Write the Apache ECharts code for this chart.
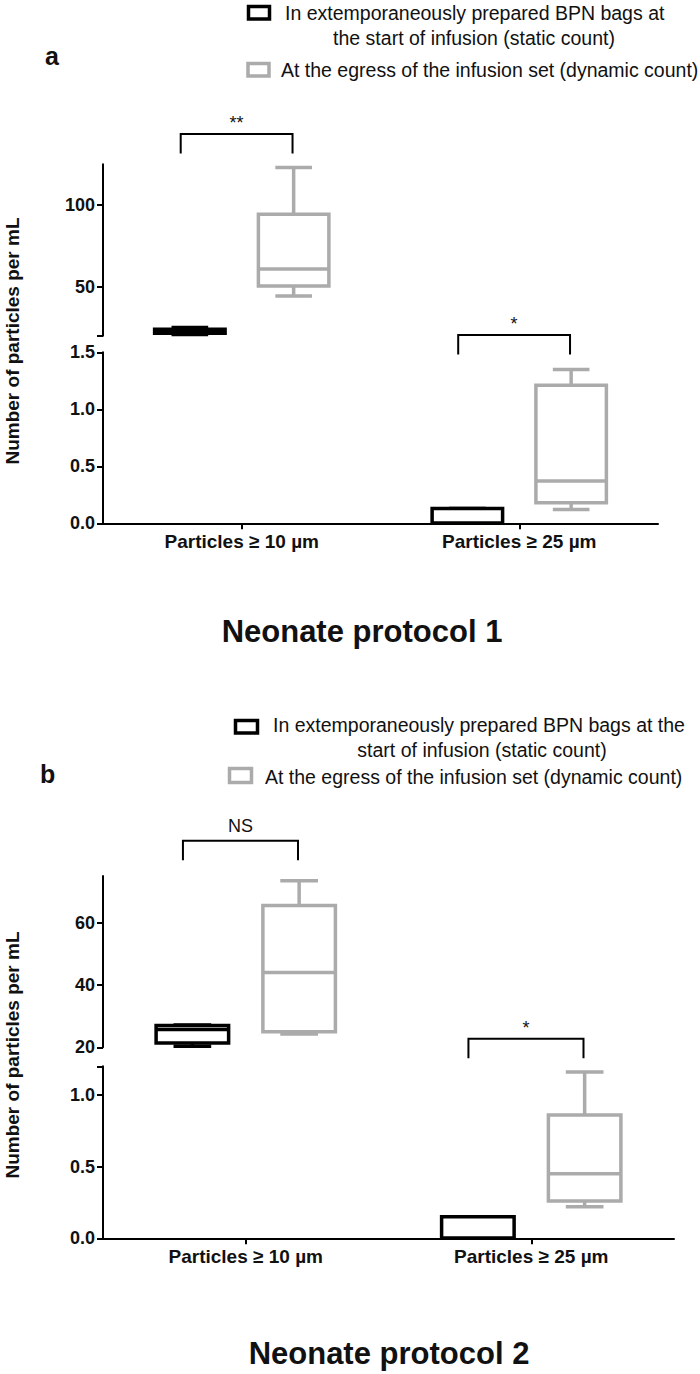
<!DOCTYPE html>
<html><head><meta charset="utf-8">
<script src="https://cdn.jsdelivr.net/npm/echarts@6/dist/echarts.min.js"></script>
<style>html,body{margin:0;padding:0;background:#fff}#c{width:700px;height:1374px}</style>
</head><body><div id="c"></div><script>
// ---------- data ----------
const categories = ['Particles \u2265 10 \u00b5m', 'Particles \u2265 25 \u00b5m'];
const seriesNames = ['In extemporaneously prepared BPN bags at the start of infusion (static count)',
                     'At the egress of the infusion set (dynamic count)'];
const legendLinesA = ['In extemporaneously prepared BPN bags at', 'the start of infusion (static count)', 'At the egress of the infusion set (dynamic count)'];
const legendLinesB = ['In extemporaneously prepared BPN bags at the', 'start of infusion (static count)', 'At the egress of the infusion set (dynamic count)'];
const panelTitles = ['Neonate protocol 1', 'Neonate protocol 2'];
const panelLetters = ['a', 'b'];
const yAxisTitle = 'Number of particles per mL';
// box values: [min, q1, median, q3, max] per category
const aStatic  = [[20.8, 21.5, 23.0, 24.0, 25.0], [0, 0, 0, 0.13, 0.13]];
const aDynamic = [[44.3, 50.4, 60.8, 94.3, 123.0], [0.12, 0.18, 0.37, 1.21, 1.35]];
const bStatic  = [[20.3, 21.4, 25.7, 27.0, 27.2], [0, 0, 0, 0.15, 0.15]];
const bDynamic = [[24.3, 25.0, 44.0, 65.5, 73.5], [0.22, 0.26, 0.45, 0.86, 1.16]];
// axis ranges & ticks (broken axes: upper / lower segment)
const aUpperRange = [20, 125], aUpperLabels = [50, 100], aUpperTicks = [20, 50, 100];
const aLowerRange = [0, 1.5],  aLowerLabels = [0, 0.5, 1.0, 1.5];
const bUpperRange = [20, 75],  bUpperLabels = [20, 40, 60];
const bLowerRange = [0, 1.2],  bLowerLabels = [0, 0.5, 1.0], bLowerTicks = [0, 0.5, 1.0, 1.2];
const sigA = ['**', '*'];
const sigB = ['NS', '*'];

// ---------- styling ----------
const FONT = "'Liberation Sans', Arial, Helvetica, sans-serif";
const BLACK = '#000000', GRAY = '#ababab', TXT = '#111111';
const OFF = 0.187, HW = 0.127, CW = 0.066, LW = 3.5;

function boxRenderer(offsetFrac, color) {
  return function (params, api) {
    const cat = api.value(0);
    const band = api.size([1, 0])[0];
    const cx = api.coord([cat, api.value(1)])[0] + offsetFrac * band;
    const y = i => api.coord([cat, api.value(i)])[1];
    const yMin = y(1), yQ1 = y(2), yMed = y(3), yQ3 = y(4), yMax = y(5);
    const hw = HW * band, cw = CW * band;
    const st = { stroke: color, lineWidth: LW, fill: null };
    return { type: 'group', children: [
      { type: 'line', shape: { x1: cx, y1: yQ3, x2: cx, y2: yMax }, style: st },
      { type: 'line', shape: { x1: cx, y1: yQ1, x2: cx, y2: yMin }, style: st },
      { type: 'line', shape: { x1: cx - cw, y1: yMax, x2: cx + cw, y2: yMax }, style: st },
      { type: 'line', shape: { x1: cx - cw, y1: yMin, x2: cx + cw, y2: yMin }, style: st },
      { type: 'rect', shape: { x: cx - hw, y: yQ3, width: 2 * hw, height: yQ1 - yQ3 }, style: { stroke: color, lineWidth: LW, fill: '#fff' } },
      { type: 'line', shape: { x1: cx - hw, y1: yMed, x2: cx + hw, y2: yMed }, style: st }
    ]};
  };
}

const grids = [
  { left: 103, width: 555, top: 164.2, height: 171.5 },
  { left: 103, width: 555, top: 352.3, height: 171 },
  { left: 103, width: 571, top: 876, height: 171.3 },
  { left: 103, width: 571, top: 1066.3, height: 172 }
];

function xAxis(g, visible, margin) {
  return {
    type: 'category', gridIndex: g, data: categories, show: visible,
    axisLine: { show: true, onZero: false, lineStyle: { color: BLACK, width: 2 } },
    axisTick: { show: true, alignWithLabel: true, length: 6, lineStyle: { color: BLACK, width: 2 } },
    axisLabel: { color: TXT, fontSize: 19, fontWeight: 'bold', fontFamily: FONT, margin: margin || 9 },
    splitLine: { show: false }
  };
}
function yAxis(g, range, labels, ticks, digits) {
  return {
    type: 'value', gridIndex: g, min: range[0], max: range[1],
    axisLine: { show: true, lineStyle: { color: BLACK, width: 2 } },
    axisTick: { show: true, length: 6, lineStyle: { color: BLACK, width: 2 }, customValues: ticks || labels },
    axisLabel: { customValues: labels, formatter: v => Number(v).toFixed(digits), color: TXT,
                 fontSize: 18, fontWeight: 'bold', fontFamily: FONT, margin: 8 },
    splitLine: { show: false }
  };
}

function seriesFor(g, staticVals, dynVals, catIdx) {
  return [
    { type: 'custom', name: seriesNames[0], xAxisIndex: g, yAxisIndex: g, renderItem: boxRenderer(-OFF, BLACK),
      data: [[catIdx].concat(staticVals[catIdx])], z: 3 },
    { type: 'custom', name: seriesNames[1], xAxisIndex: g, yAxisIndex: g, renderItem: boxRenderer(OFF, GRAY),
      data: [[catIdx].concat(dynVals[catIdx])], z: 3 }
  ];
}

const chart = echarts.init(document.getElementById('c'), null, { renderer: 'svg' });
chart.setOption({
  animation: false,
  backgroundColor: '#ffffff',
  grid: grids,
  xAxis: [xAxis(0, false), xAxis(1, true, 9), xAxis(2, false), xAxis(3, true, 9)],
  yAxis: [
    yAxis(0, aUpperRange, aUpperLabels, aUpperTicks, 0),
    yAxis(1, aLowerRange, aLowerLabels, aLowerLabels, 1),
    yAxis(2, bUpperRange, bUpperLabels, bUpperLabels, 0),
    yAxis(3, bLowerRange, bLowerLabels, bLowerTicks, 1)
  ],
  series: [].concat(
    seriesFor(0, aStatic, aDynamic, 0), seriesFor(1, aStatic, aDynamic, 1),
    seriesFor(2, bStatic, bDynamic, 0), seriesFor(3, bStatic, bDynamic, 1)
  )
});

// ---------- annotations (legend, titles, significance brackets) ----------
const g = [];
function txt(x, y, s, size, weight, align, rot) {
  g.push({ type: 'text', x: x, y: y, rotation: rot || 0, silent: true,
    style: { text: s, x: 0, y: 0, fill: TXT, font: (weight || 'normal') + ' ' + size + 'px ' + FONT,
             textAlign: align || 'left', textVerticalAlign: 'middle' } });
}
function sq(x, y, w, h, color) {
  g.push({ type: 'rect', silent: true, shape: { x: x, y: y, width: w, height: h },
           style: { stroke: color, lineWidth: 3.5, fill: '#fff' } });
}
// legend a
sq(248.5, 6.5, 21, 12.5, BLACK); sq(248, 63.5, 21, 12.5, GRAY);
txt(285, 13, legendLinesA[0], 19.5); txt(474, 37.5, legendLinesA[1], 19.5, 'normal', 'center'); txt(281, 70, legendLinesA[2], 19.5);
// legend b
sq(235.5, 720.5, 22, 12.5, BLACK); sq(229.5, 768.5, 22, 14, GRAY);
txt(273, 725, legendLinesB[0], 19.5); txt(482, 750, legendLinesB[1], 19.5, 'normal', 'center'); txt(265, 777, legendLinesB[2], 19.5);
// panel letters & titles
txt(45, 56, panelLetters[0], 25, 'bold'); txt(40, 774, panelLetters[1], 25, 'bold');
txt(362, 631, panelTitles[0], 31, 'bold', 'center'); txt(389, 1353, panelTitles[1], 31, 'bold', 'center');
// y titles
txt(12.5, 341, yAxisTitle, 19, 'bold', 'center', Math.PI / 2);
txt(12.5, 1055, yAxisTitle, 19, 'bold', 'center', Math.PI / 2);
// brackets
function bracket(xAxisIndex, cat, yTop, label) {
  const x0 = chart.convertToPixel({ xAxisIndex: xAxisIndex }, 0);
  const x1 = chart.convertToPixel({ xAxisIndex: xAxisIndex }, 1);
  const band = x1 - x0;
  const cx = chart.convertToPixel({ xAxisIndex: xAxisIndex }, cat);
  const l = cx - 0.22 * band, r = cx + 0.183 * band;
  g.push({ type: 'polyline', silent: true, shape: { points: [[l, yTop + 19.5], [l, yTop], [r, yTop], [r, yTop + 19.5]] },
           style: { stroke: BLACK, lineWidth: 2, fill: null } });
  const isStar = label.indexOf('*') >= 0;
  txt((l + r) / 2, isStar ? yTop - 11 : yTop - 14.5, label, 18, 'normal', 'center');
}
bracket(1, 0, 134, sigA[0]); bracket(1, 1, 335, sigA[1]);
bracket(3, 0, 840.7, sigB[0]); bracket(3, 1, 1038.7, sigB[1]);
chart.setOption({ graphic: g });
</script></body></html>
